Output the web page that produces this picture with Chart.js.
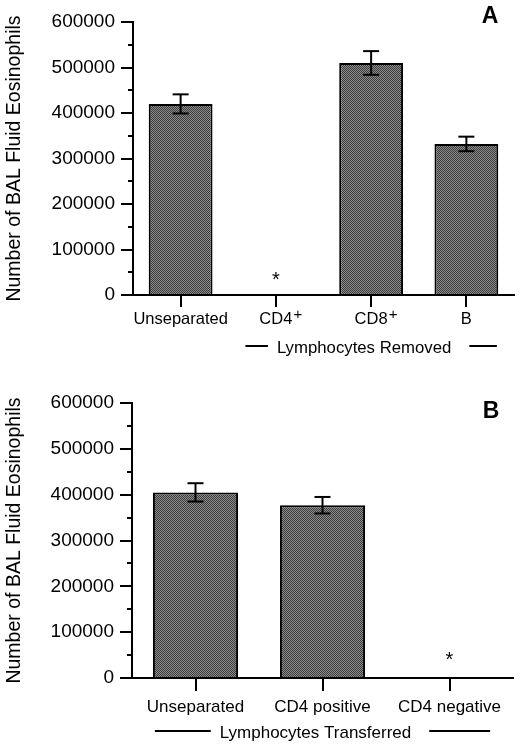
<!DOCTYPE html>
<html>
<head>
<meta charset="utf-8">
<script src="https://cdn.jsdelivr.net/npm/chart.js@4.4.1/dist/chart.umd.min.js"></script>
<style>
html, body { margin: 0; padding: 0; background: #fff; }
#wrap { position: relative; width: 520px; height: 748px; }
canvas { position: absolute; left: 0; }
</style>
</head>
<body>
<div id="wrap">
  <canvas id="chartA" width="520" height="360" style="top:0px"></canvas>
  <canvas id="chartB" width="520" height="388" style="top:360px"></canvas>
</div>
<script>
// --- data, panel A (lymphocytes removed) ---
const catsA = ['Unseparated', 'CD4+', 'CD8+', 'B'];
const valsA = [420000, 0, 510000, 332000];
const errA = [21000, 0, 26000, 16000];
const starA = [null, 44000, null, null];

// --- data, panel B (lymphocytes transferred) ---
const catsB = ['Unseparated', 'CD4 positive', 'CD4 negative'];
const valsB = [405000, 377000, 0];
const errB = [20000, 18000, 0];
const starB = [null, null, 50000];

const yMax = 600000;
const yStep = 100000;
const yTitle = 'Number of BAL Fluid Eosinophils';

const FONT = '"Liberation Sans", Arial, Helvetica, sans-serif';

function line(ctx, x1, y1, x2, y2) {
    ctx.beginPath();
    ctx.moveTo(x1, y1);
    ctx.lineTo(x2, y2);
    ctx.stroke();
}

// stippled grey like the printed bars
function stipple() {
    const c = document.createElement('canvas');
    c.width = 2; c.height = 2;
    const g = c.getContext('2d');
    g.fillStyle = '#8c8c8c'; g.fillRect(0, 0, 2, 2);
    g.fillStyle = '#3c3c3c'; g.fillRect(0, 0, 1, 1); g.fillRect(1, 1, 1, 1);
    return g.createPattern(c, 'repeat');
}

// error bars, asterisks, minor ticks, superscripts, panel letter, bracket label
const extras = {
    id: 'extras',
    afterDraw(chart, args, o) {
        const ctx = chart.ctx;
        const ca = chart.chartArea;
        const x = chart.scales.x, y = chart.scales.y;
        const meta = chart.getDatasetMeta(0);
        const vals = chart.data.datasets[0].data;
        ctx.save();
        ctx.strokeStyle = '#000';
        ctx.fillStyle = '#000';
        ctx.lineWidth = 2;

        // minor ticks every half step
        for (let v = yStep / 2; v < yMax; v += yStep) {
            const py = Math.round(y.getPixelForValue(v));
            line(ctx, ca.left - 5, py, ca.left, py);
        }
        // x axis line runs on under the y ticks
        line(ctx, ca.left - 12, ca.bottom, ca.left, ca.bottom);

        // error bars
        o.errors.forEach((e, i) => {
            if (!e) return;
            const bx = meta.data[i].x;
            const hi = y.getPixelForValue(vals[i] + e);
            const lo = y.getPixelForValue(vals[i] - e);
            line(ctx, bx, hi, bx, lo);
            line(ctx, bx - 8, hi, bx + 8, hi);
            line(ctx, bx - 8, lo, bx + 8, lo);
        });

        // significance asterisks
        ctx.font = '20px ' + FONT;
        ctx.textAlign = 'center';
        ctx.textBaseline = 'alphabetic';
        o.stars.forEach((s, i) => {
            if (s == null) return;
            ctx.fillText('*', x.getPixelForValue(i), y.getPixelForValue(s) + 11);
        });

        // raised "+" after category labels such as CD4+
        const xo = chart.options.scales.x;
        const labY = ca.bottom + xo.grid.tickLength + xo.ticks.padding + xo.ticks.font.size * 0.6;
        chart.data.labels.forEach((lab, i) => {
            if (!lab.endsWith('+')) return;
            ctx.font = xo.ticks.font.size + 'px ' + FONT;
            const w = ctx.measureText(lab.slice(0, -1)).width;
            ctx.font = '15px ' + FONT;
            ctx.textAlign = 'left';
            ctx.textBaseline = 'middle';
            ctx.fillText('+', x.getPixelForValue(i) + w / 2 + 1, labY - 5);
        });

        // panel letter
        ctx.font = 'bold 23px ' + FONT;
        ctx.textAlign = 'center';
        ctx.textBaseline = 'middle';
        ctx.fillText(o.letter.text, o.letter.x, o.letter.y);

        // bracketed group label under the categories
        const g = o.group;
        const step = x.getPixelForValue(1) - x.getPixelForValue(0);
        const x0 = x.getPixelForValue(g.from) - step * 0.32;
        const x1 = x.getPixelForValue(g.to) + step * 0.32;
        const cx = (x0 + x1) / 2 - 7;
        const gy = ca.bottom + g.dy;
        ctx.font = g.size + 'px ' + FONT;
        const w = ctx.measureText(g.text).width;
        ctx.fillText(g.text, cx, gy);
        line(ctx, x0, gy - 2, cx - w / 2 - 9, gy - 2);
        line(ctx, cx + w / 2 + 18, gy - 2, x1, gy - 2);
        ctx.restore();
    }
};

function makePanel(id, cats, vals, errs, stars, lay) {
    return new Chart(document.getElementById(id), {
        type: 'bar',
        data: {
            labels: cats,
            datasets: [{
                data: vals,
                backgroundColor: stipple(),
                borderColor: '#000',
                borderWidth: 2,
                borderSkipped: 'bottom',
                barPercentage: 0.67,
                categoryPercentage: 1
            }]
        },
        options: {
            responsive: false,
            animation: false,
            layout: { padding: { top: lay.top, right: lay.right, bottom: 0, left: 0 } },
            plugins: {
                legend: { display: false },
                tooltip: { enabled: false },
                extras: { errors: errs, stars: stars, letter: lay.letter, group: lay.group }
            },
            scales: {
                x: {
                    offset: true,
                    grid: { offset: false, drawOnChartArea: false, color: '#000', lineWidth: 2, tickLength: lay.xTick },
                    border: { color: '#000', width: 2 },
                    ticks: { color: '#000', font: { family: FONT, size: lay.catSize }, padding: lay.xPad,
                        maxRotation: 0, autoSkip: false,
                        callback: function (v) { return this.getLabelForValue(v).replace(/\+$/, ''); } },
                    afterFit: s => { s.height = lay.xHeight; }
                },
                y: {
                    min: 0,
                    max: yMax,
                    grid: { drawOnChartArea: false, color: '#000', lineWidth: 2, tickLength: 12 },
                    border: { color: '#000', width: 2 },
                    ticks: { stepSize: yStep, color: '#000', font: { family: FONT, size: 19 }, padding: 6,
                        callback: v => String(v) },
                    title: { display: true, text: yTitle, color: '#000', font: { family: FONT, size: 19.5 },
                        padding: { top: 3, bottom: 0 } },
                    afterFit: s => { s.width = lay.yWidth; }
                }
            }
        },
        plugins: [extras]
    });
}

makePanel('chartA', catsA, valsA, errA, starA, {
    top: 22, right: 6, yWidth: 133, xHeight: 65, xTick: 12, xPad: 3, catSize: 16.5,
    letter: { text: 'A', x: 490, y: 17 },
    group: { text: 'Lymphocytes Removed', from: 1, to: 3, dy: 53, size: 16.75 }
});

makePanel('chartB', catsB, valsB, errB, starB, {
    top: 43, right: 7, yWidth: 132, xHeight: 70, xTick: 13, xPad: 6, catSize: 17,
    letter: { text: 'B', x: 491, y: 52 },
    group: { text: 'Lymphocytes Transferred', from: 0, to: 2, dy: 55, size: 17 }
});
</script>
</body>
</html>
